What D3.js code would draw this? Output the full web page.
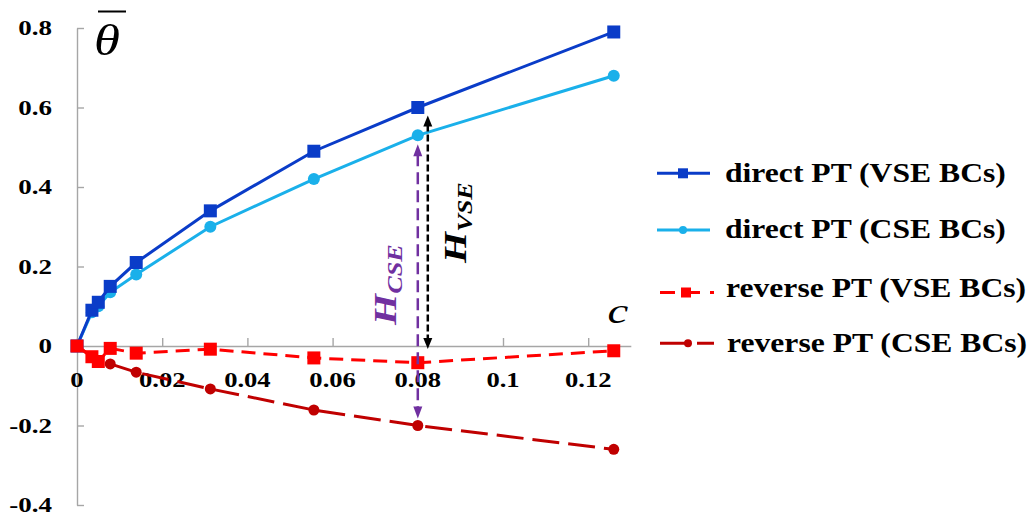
<!DOCTYPE html>
<html>
<head>
<meta charset="utf-8">
<script src="https://cdn.jsdelivr.net/npm/d3@7"></script>
<style>
  html, body { margin: 0; padding: 0; background: #ffffff; }
  svg { display: block; }
</style>
</head>
<body>
<svg id="chart" width="1034" height="518"></svg>
<script>
// Concentration values on the horizontal axis
const cValues = [0, 0.0035, 0.005, 0.0078, 0.0139, 0.0313, 0.0556, 0.08, 0.126];

// Mean theta for each case
const directVSE  = [0, 0.09, 0.11, 0.15, 0.21, 0.34, 0.49, 0.60, 0.79];
const directCSE  = [0, 0.085, 0.10, 0.135, 0.18, 0.30, 0.42, 0.53, 0.68];
const reverseVSE = [0, -0.027, -0.039, -0.006, -0.018, -0.008, -0.03, -0.042, -0.012];
const reverseCSE = [0, -0.027, -0.039, -0.045, -0.066, -0.108, -0.161, -0.20, -0.26];

const seriesNames = [
  "direct PT (VSE BCs)",
  "direct PT (CSE BCs)",
  "reverse PT (VSE BCs)",
  "reverse PT (CSE BCs)"
];

const xTicks = [0, 0.02, 0.04, 0.06, 0.08, 0.1, 0.12];
const xTickLabels = ["0", "0.02", "0.04", "0.06", "0.08", "0.1", "0.12"];
const yTicks = [0.8, 0.6, 0.4, 0.2, 0, -0.2, -0.4];
const yTickLabels = ["0.8", "0.6", "0.4", "0.2", "0", "-0.2", "-0.4"];

// Gap annotation at c = 0.08
const gapC = 0.08;

const svg = d3.select("#chart");
const serif = '"Liberation Serif", "Times New Roman", serif';

const x = d3.scaleLinear().domain([0, 0.13]).range([77, 630.8]);
const y = d3.scaleLinear().domain([-0.4, 0.8]).range([505, 28]);

// Horizontally widened text
function wideText(g, str, tx, ty, opts) {
  const t = g.append("text")
    .attr("transform", `translate(${tx},${ty})` + (opts.rotate ? ` rotate(${opts.rotate})` : "") + ` scale(${opts.sx},1)`)
    .style("font-family", serif)
    .style("font-size", opts.size + "px")
    .style("font-weight", opts.weight || "bold")
    .style("font-style", opts.style || "normal")
    .attr("fill", opts.fill || "#000")
    .attr("text-anchor", opts.anchor || "start");
  if (str !== null) t.text(str);
  return t;
}

// ---- Axes ----
const axisColor = "#a6a6a6";

const yAxis = d3.axisLeft(y).tickValues(yTicks).tickSizeInner(-7).tickSizeOuter(0).tickFormat(() => "");
const gy = svg.append("g").attr("transform", `translate(${x(0)},0)`).call(yAxis);
gy.select(".domain").attr("stroke", axisColor).attr("stroke-width", 1.4);
gy.selectAll(".tick line").attr("stroke", axisColor).attr("stroke-width", 1.4);

const xAxis = d3.axisBottom(x).tickValues(xTicks).tickSizeInner(-8).tickSizeOuter(0).tickFormat(() => "");
const gx = svg.append("g").attr("transform", `translate(0,${y(0)})`).call(xAxis);
gx.select(".domain").attr("stroke", axisColor).attr("stroke-width", 1.4);
gx.selectAll(".tick line").attr("stroke", axisColor).attr("stroke-width", 1.4);

const labels = svg.append("g");
yTicks.forEach((v, i) => {
  wideText(labels, yTickLabels[i], 52, y(v) + 7, { size: 20, sx: 1.35, anchor: "end" });
});
xTicks.forEach((v, i) => {
  wideText(labels, xTickLabels[i], x(v), 387, { size: 20, sx: 1.33, anchor: "middle" });
});

// Axis symbols
wideText(svg, "\u03B8", 94, 55, { size: 44, sx: 1.2, weight: "normal", style: "italic" });
svg.append("line").attr("x1", 98).attr("x2", 126).attr("y1", 11.5).attr("y2", 11.5)
  .attr("stroke", "#000").attr("stroke-width", 2);
wideText(svg, "c", 618, 323, { size: 36, sx: 1.3, weight: "normal", style: "italic", anchor: "middle" });

// ---- Series ----
const styles = [
  { values: directVSE,  color: "#0a3cc8", dash: null,    marker: "square", size: 13, lsize: 10 },
  { values: directCSE,  color: "#1ab0ea", dash: null,    marker: "circle", size: 12, lsize: 8 },
  { values: reverseVSE, color: "#ff0000", dash: "14,8",  marker: "square", size: 13, lsize: 10 },
  { values: reverseCSE, color: "#c00000", dash: "27,9",  marker: "circle", size: 11, lsize: 8 }
];

const line = d3.line().x(d => x(d[0])).y(d => y(d[1]));

function drawMarker(g, kind, cx, cy, size, color) {
  if (kind === "square") {
    g.append("rect").attr("x", cx - size / 2).attr("y", cy - size / 2)
      .attr("width", size).attr("height", size).attr("fill", color);
  } else {
    g.append("circle").attr("cx", cx).attr("cy", cy).attr("r", size / 2).attr("fill", color);
  }
}

// Drawing order: direct CSE, direct VSE, reverse CSE, reverse VSE
[1, 0, 3, 2].forEach(k => {
  const s = styles[k];
  const pts = cValues.map((c, i) => [c, s.values[i]]);
  const g = svg.append("g");
  g.append("path").attr("d", line(pts)).attr("fill", "none")
    .attr("stroke", s.color).attr("stroke-width", 3)
    .attr("stroke-dasharray", s.dash);
  pts.forEach(p => drawMarker(g, s.marker, x(p[0]), y(p[1]), s.size, s.color));
});

// ---- Gap annotations ----
function arrowHead(g, xt, yt, dir, w, len, color) {
  g.append("path")
    .attr("d", `M${xt},${yt} L${xt - w / 2},${yt - dir * len} L${xt + w / 2},${yt - dir * len} Z`)
    .attr("fill", color);
}

const ann = svg.append("g");
const gi = cValues.indexOf(gapC);

// H_CSE: from direct (CSE) down to reverse (CSE)
const purple = "#7030a0";
const px = x(gapC);
const pTop = y(directCSE[gi]) + 9, pBot = y(reverseCSE[gi]) - 7;
ann.append("line").attr("x1", px).attr("x2", px).attr("y1", pTop + 10).attr("y2", pBot - 10)
  .attr("stroke", purple).attr("stroke-width", 2.5).attr("stroke-dasharray", "12,6");
arrowHead(ann, px, pTop, -1, 9, 12, purple);
arrowHead(ann, px, pBot, 1, 9, 12, purple);

// H_VSE: from direct (VSE) down to the axis
const bx = x(gapC) + 10;
const bTop = y(directVSE[gi]) + 8, bBot = y(0) + 3;
ann.append("line").attr("x1", bx).attr("x2", bx).attr("y1", bTop + 9).attr("y2", bBot - 9)
  .attr("stroke", "#000").attr("stroke-width", 2.5).attr("stroke-dasharray", "7,3");
arrowHead(ann, bx, bTop, -1, 9, 11, "#000");
arrowHead(ann, bx, bBot, 1, 9, 11, "#000");

const hv = wideText(ann, null, 466, 263, { size: 32, sx: 1.25, style: "italic", rotate: -90 });
hv.append("tspan").text("H");
hv.append("tspan").style("font-size", "21px").attr("dy", 6).text("VSE");

const hc = wideText(ann, null, 396, 325, { size: 32, sx: 1.25, style: "italic", rotate: -90, fill: purple });
hc.append("tspan").text("H");
hc.append("tspan").style("font-size", "21px").attr("dy", 6).text("CSE");

// ---- Legend ----
const legend = svg.append("g");
const rows = [
  { ly: 173.3, ty: 181.7, mx: 683, tx: 725 },
  { ly: 230,   ty: 238.3, mx: 683, tx: 725 },
  { ly: 292.5, ty: 296.7, mx: 686, tx: 726 },
  { ly: 343.3, ty: 351.7, mx: 688, tx: 727 }
];
styles.forEach((s, i) => {
  const r = rows[i];
  const x0 = i >= 2 ? 660 : 657, x1 = i >= 2 ? 714 : 710;
  legend.append("line").attr("x1", x0).attr("x2", x1).attr("y1", r.ly).attr("y2", r.ly)
    .attr("stroke", s.color).attr("stroke-width", 3)
    .attr("stroke-dasharray", i === 2 ? "15,10" : (i === 3 ? "27,10" : null));
  drawMarker(legend, s.marker, r.mx, r.ly, s.lsize, s.color);
  wideText(legend, seriesNames[i], r.tx, r.ty, { size: 28, sx: 1.13 });
});
</script>
</body>
</html>
